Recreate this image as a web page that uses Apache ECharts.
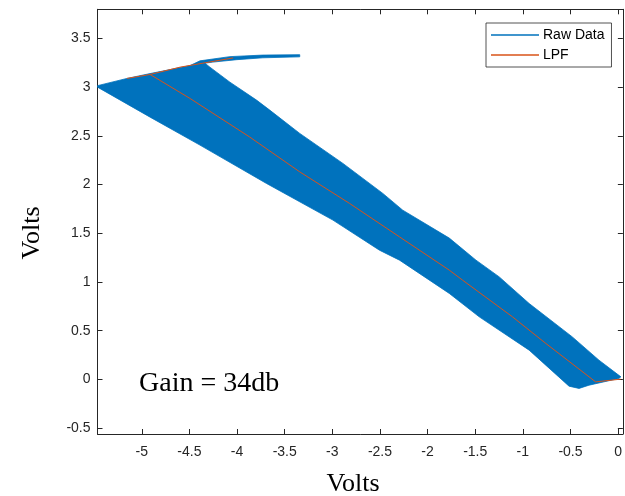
<!DOCTYPE html>
<html>
<head>
<meta charset="utf-8">
<script src="https://cdn.jsdelivr.net/npm/echarts@6/dist/echarts.min.js"></script>
<style>
html,body{margin:0;padding:0;background:#fff;}
#chart{width:625px;height:496px;}
</style>
</head>
<body>
<div id="chart"></div>
<script>
// Axis ticks
const xTicks = [-5, -4.5, -4, -3.5, -3, -2.5, -2, -1.5, -1, -0.5, 0];
const yTicks = [-0.5, 0, 0.5, 1, 1.5, 2, 2.5, 3, 3.5];

// Raw data envelope (the noisy signal fills this band)
const rawUpperEdge = [[-5.465,3.016],[-5.157,3.090],[-4.913,3.140],[-4.494,3.222],[-4.389,3.271],[-4.075,3.314],[-3.730,3.330],[-3.342,3.334]];
const rawArmUnderside = [[-3.342,3.312],[-3.730,3.302],[-4.002,3.283],[-4.253,3.258],[-4.337,3.247]];
const rawRightEdge = [[-4.285,3.206],[-4.075,3.052],[-3.796,2.868],[-3.657,2.765],[-3.342,2.526],[-2.889,2.218],[-2.470,1.910],[-2.261,1.738],[-1.772,1.451],[-1.492,1.225],[-1.248,1.053],[-0.934,0.780],[-0.481,0.437],[-0.201,0.198],[0.029,0.027]];
const rawLowerEdge = [[0.008,0.010],[-0.306,-0.059],[-0.410,-0.092],[-0.515,-0.069],[-0.934,0.301],[-1.458,0.643],[-1.772,0.883],[-2.295,1.225],[-2.505,1.327],[-2.994,1.636],[-3.691,2.012],[-4.390,2.406],[-4.913,2.693],[-5.465,3.001]];

// Low-pass filtered trace
const lpfCenter = [[-5.157,3.090],[-4.913,3.131],[-4.494,2.885],[-3.866,2.488],[-3.342,2.131],[-2.819,1.807],[-2.295,1.464],[-1.772,1.122],[-1.632,1.019],[-1.109,0.643],[-0.759,0.370],[-0.236,-0.025],[0.026,0.003]];
const lpfUpper = [[-4.913,3.131],[-4.599,3.206],[-4.041,3.301]];

const rawOutline = rawUpperEdge.concat(rawArmUnderside, rawRightEdge, rawLowerEdge);
const lpfData = lpfCenter.concat([['-','-']], lpfUpper);

const AX = '#262626';
const xMin = -5.465, xMax = 0.05, yMin = -0.56, yMax = 3.8;

function xAx(pos, showLabel){
  return {
    type:'value', position:pos, min:xMin, max:xMax,
    axisLine:{show:true, onZero:false, lineStyle:{color:AX, width:1}},
    axisTick:{show:true, inside:true, length:5, customValues:xTicks, lineStyle:{color:AX}},
    axisLabel:{show:showLabel, customValues:xTicks, margin:11, color:AX, fontSize:14, fontFamily:'Liberation Sans, Arial, sans-serif'},
    splitLine:{show:false}
  };
}
function yAx(pos, showLabel){
  return {
    type:'value', position:pos, min:yMin, max:yMax,
    axisLine:{show:true, onZero:false, lineStyle:{color:AX, width:1}},
    axisTick:{show:true, inside:true, length:5, customValues:yTicks, lineStyle:{color:AX}},
    axisLabel:{show:showLabel, customValues:yTicks, margin:7, color:AX, fontSize:14, fontFamily:'Liberation Sans, Arial, sans-serif'},
    splitLine:{show:false}
  };
}

const chart = echarts.init(document.getElementById('chart'), null, {renderer:'canvas'});
chart.setOption({
  animation:false,
  backgroundColor:'#ffffff',
  grid:{left:97.5, right:1, top:9.3, bottom:62, containLabel:false},
  xAxis:[xAx('bottom', true), xAx('top', false)],
  yAxis:[yAx('left', true), yAx('right', false)],
  legend:{
    show:true, data:['Raw Data','LPF'], orient:'vertical',
    left:486, top:23, padding:[5,7,5,5], itemGap:6,
    itemWidth:48, itemHeight:1.5, icon:'rect',
    backgroundColor:'#fff', borderColor:AX, borderWidth:0.8,
    textStyle:{fontSize:14, color:'#000', fontFamily:'Liberation Sans, Arial, sans-serif', padding:[0,0,0,-1]}
  },
  graphic:[
    {type:'text', left:139, top:370, style:{text:'Gain = 34db', font:'28px "Liberation Serif", "Times New Roman", serif', fill:'#000'}},
    {type:'text', x:353, y:484.5, style:{text:'Volts', font:'26px "Liberation Serif", "Times New Roman", serif', fill:'#000', align:'center', verticalAlign:'middle'}},
    {type:'text', x:32, y:233, rotation:Math.PI/2, style:{text:'Volts', font:'26px "Liberation Serif", "Times New Roman", serif', fill:'#000', align:'center', verticalAlign:'middle'}}
  ],
  series:[
    {
      name:'Raw Data', type:'custom', xAxisIndex:0, yAxisIndex:0,
      itemStyle:{color:'#0072BD'}, clip:true,
      encode:{x:0, y:1},
      data:rawOutline,
      renderItem:function(params, api){
        if(params.dataIndex !== 0) return null;
        const pts = rawOutline.map(function(p){ return api.coord(p); });
        return {type:'polygon', shape:{points:pts}, style:{fill:'#0072BD', stroke:'#0072BD', lineWidth:0.8, lineJoin:'round'}};
      }
    },
    {
      name:'LPF', type:'line', xAxisIndex:0, yAxisIndex:0,
      data:lpfData, showSymbol:false, symbol:'none', connectNulls:false,
      lineStyle:{color:'#D95319', width:1}, itemStyle:{color:'#D95319'}
    }
  ]
});
</script>
</body>
</html>
